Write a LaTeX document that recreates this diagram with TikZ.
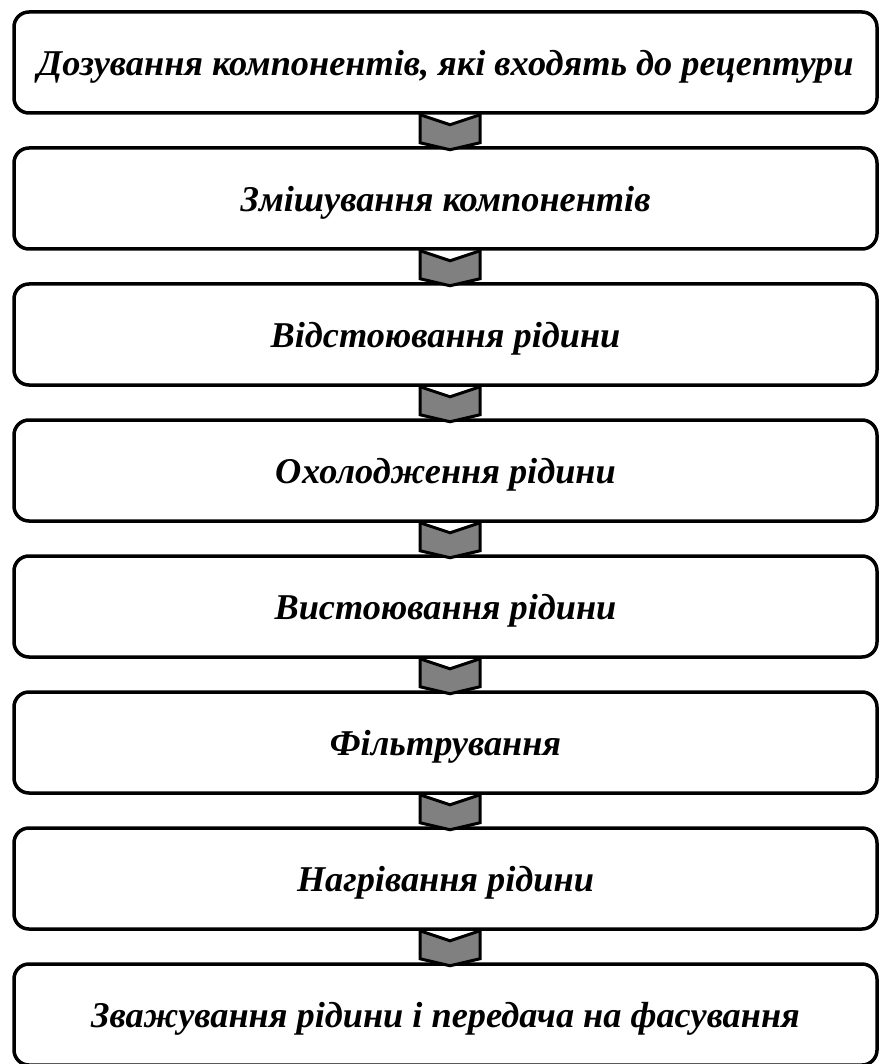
\documentclass[tikz,border=0pt]{standalone}
\usepackage{fontspec}
\setmainfont{Liberation Serif}
\usetikzlibrary{calc}
\definecolor{chevgray}{RGB}{128,128,128}
\tikzset{
  stage/.style={draw=black, line width=3.5pt, rounded corners=15pt, fill=white,
    minimum width=863pt, minimum height=101pt, inner sep=0pt,
    font=\fontsize{36.3}{42}\selectfont\bfseries\itshape},
  chev/.style={draw=black, fill=chevgray, line width=3pt, line join=miter}
}
% text sits a little below the box centre
\newcommand{\stagetext}[1]{\raisebox{-4pt}[\height][\depth]{#1}}
\begin{document}
\begin{tikzpicture}[x=1pt, y=-1pt]
\useasboundingbox (0,0) rectangle (879,1064);
\foreach \i/\t in {1/{Дозування компонентів, які входять до рецептури},
                   2/{Змішування компонентів},
                   3/{Відстоювання рідини},
                   4/{Охолодження рідини},
                   5/{Вистоювання рідини},
                   6/{Фільтрування},
                   7/{Нагрівання рідини},
                   8/{Зважування рідини і передача на фасування}}
  \node[stage] (b\i) at (445.5, {62.5+136*(\i-1)}) {\stagetext{\t}};
% chevrons linking consecutive stages
\foreach \i in {1,...,7}
  \draw[chev, shift={(b\i.south)}]
    (-25.5,0) -- (4.5,10) -- (34.5,0) -- (34.5,28) -- (4.5,35) -- (-25.5,28) -- cycle;
\end{tikzpicture}
\end{document}
